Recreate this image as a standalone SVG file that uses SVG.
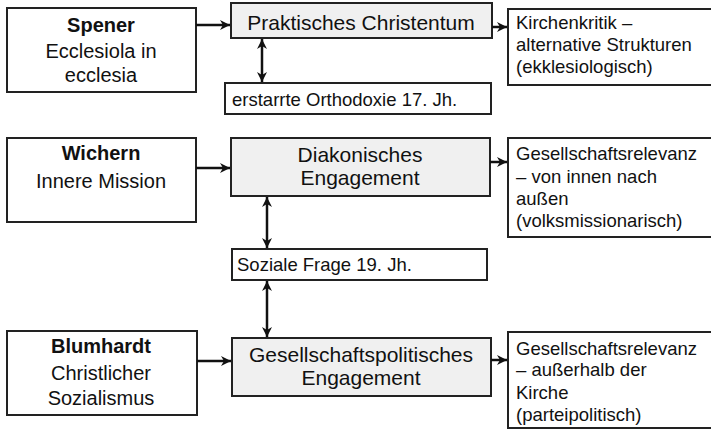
<svg xmlns="http://www.w3.org/2000/svg" width="711" height="430" viewBox="0 0 711 430">
<defs>
<style>
.box{fill:#ffffff;stroke:#222;stroke-width:2}
.gbox{fill:#f0f0f0;stroke:#222;stroke-width:2}
.t{font-family:"Liberation Sans",Arial,sans-serif;fill:#111}
.l{font-size:20px;text-anchor:middle}
.b{font-weight:bold}
.c{font-size:21px;text-anchor:middle}
.r{font-size:18.5px}
.s{font-size:18.5px}
.con{stroke:#111;stroke-width:2.5;fill:none}
</style>
<marker id="ah" viewBox="0 0 10 10" refX="10" refY="5" markerWidth="4" markerHeight="4" orient="auto-start-reverse" markerUnits="strokeWidth">
<path d="M0,0 L10,5 L0,10 L3,5 z" fill="#111"/>
</marker>
</defs>
<rect width="711" height="430" fill="#ffffff"/>

<g id="spener">
<rect class="box" x="7" y="8" width="189" height="84"/>
<text class="t l b" x="101" y="32">Spener</text>
<text class="t l" x="101" y="58">Ecclesiola in</text>
<text class="t l" x="101" y="82">ecclesia</text>
</g>
<g id="praktisch">
<rect class="gbox" x="231" y="3" width="261" height="35"/>
<text class="t c" x="361" y="30">Praktisches Christentum</text>
</g>
<g id="kirchenkritik">
<rect class="box" x="508" y="9" width="210" height="76"/>
<text class="t r" x="516" y="29">Kirchenkritik –</text>
<text class="t r" x="516" y="51">alternative Strukturen</text>
<text class="t r" x="516" y="73">(ekklesiologisch)</text>
</g>
<g id="orthodoxie">
<rect class="box" x="225" y="83" width="266" height="31"/>
<text class="t s" x="232" y="106">erstarrte Orthodoxie 17. Jh.</text>
</g>

<g id="wichern">
<rect class="box" x="7" y="138" width="189" height="84"/>
<text class="t l b" x="101" y="160">Wichern</text>
<text class="t l" x="101" y="188">Innere Mission</text>
</g>
<g id="diakonisch">
<rect class="gbox" x="231" y="138" width="259" height="58"/>
<text class="t c" x="360" y="162">Diakonisches</text>
<text class="t c" x="360" y="185">Engagement</text>
</g>
<g id="relevanz1">
<rect class="box" x="508" y="138" width="210" height="99"/>
<text class="t r" x="516" y="160">Gesellschaftsrelevanz</text>
<text class="t r" x="516" y="183">– von innen nach</text>
<text class="t r" x="516" y="205">außen</text>
<text class="t r" x="516" y="227">(volksmissionarisch)</text>
</g>
<g id="soziale">
<rect class="box" x="232" y="249" width="255" height="31"/>
<text class="t s" x="237" y="271">Soziale Frage 19. Jh.</text>
</g>

<g id="blumhardt">
<rect class="box" x="7" y="331" width="190" height="84"/>
<text class="t l b" x="101" y="353">Blumhardt</text>
<text class="t l" x="101" y="380">Christlicher</text>
<text class="t l" x="101" y="405">Sozialismus</text>
</g>
<g id="gesellschaftspolitisch">
<rect class="gbox" x="232" y="338" width="259" height="58"/>
<text class="t c" x="361" y="362">Gesellschaftspolitisches</text>
<text class="t c" x="361" y="385">Engagement</text>
</g>
<g id="relevanz2">
<rect class="box" x="508" y="332" width="210" height="96"/>
<text class="t r" x="516" y="355">Gesellschaftsrelevanz</text>
<text class="t r" x="516" y="376">– außerhalb der</text>
<text class="t r" x="516" y="399">Kirche</text>
<text class="t r" x="516" y="421">(parteipolitisch)</text>
</g>

<g id="connectors">
<line class="con" x1="196" y1="25" x2="230" y2="25" marker-end="url(#ah)"/>
<line class="con" x1="492" y1="27" x2="507" y2="27" marker-end="url(#ah)"/>
<line class="con" x1="262" y1="39" x2="262" y2="82" marker-start="url(#ah)" marker-end="url(#ah)"/>
<line class="con" x1="196" y1="168" x2="230" y2="168" marker-end="url(#ah)"/>
<line class="con" x1="490" y1="162" x2="507" y2="162" marker-end="url(#ah)"/>
<line class="con" x1="267" y1="197" x2="267" y2="248" marker-start="url(#ah)" marker-end="url(#ah)"/>
<line class="con" x1="267" y1="281" x2="267" y2="337" marker-start="url(#ah)" marker-end="url(#ah)"/>
<line class="con" x1="197" y1="361" x2="231" y2="361" marker-end="url(#ah)"/>
<line class="con" x1="491" y1="360" x2="507" y2="360" marker-end="url(#ah)"/>
</g>
</svg>
